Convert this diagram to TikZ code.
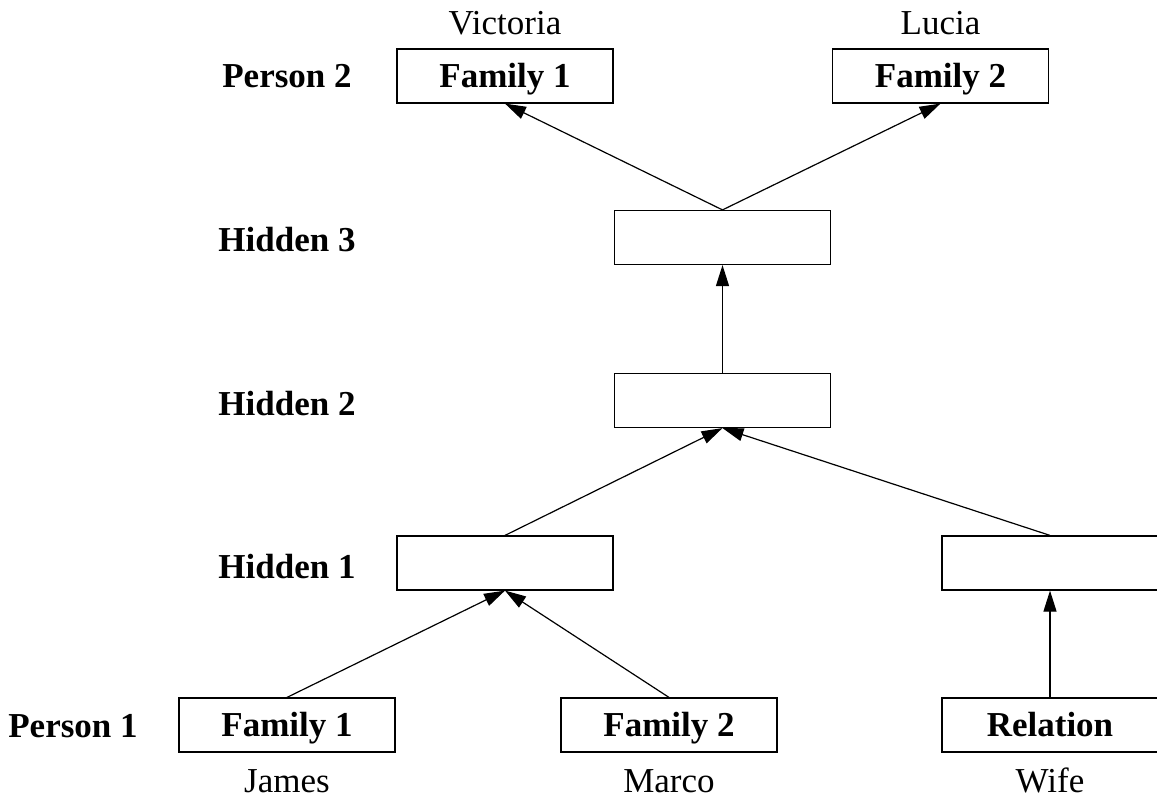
\documentclass[tikz,border=0pt]{standalone}
\usepackage{fontspec}
\setmainfont{Liberation Serif}
\usetikzlibrary{arrows.meta}

\begin{document}
\begin{tikzpicture}[x=0.5pt,y=-0.5pt,
	box/.style={draw,line width=0.6pt,minimum width=108pt,minimum height=27pt,inner sep=0pt,
		text height=11.5pt,text depth=0pt,font=\bfseries},
	lbl/.style={inner sep=0pt,text height=11.5pt,text depth=0pt,font=\bfseries},
	who/.style={inner sep=0pt,text height=11.5pt,text depth=0pt},
	link/.style={line width=0.6pt,-{Triangle[length=10.5pt,width=6.5pt]}}]
	\fontsize{17.5}{21}\selectfont
	\useasboundingbox (0,0) rectangle (1157,803);
	\clip (0,0) rectangle (1157,803);

	% layer labels
	\node[lbl] (lp2) at (287,76) {Person 2};
	\node[lbl] (lh3) at (287,240) {Hidden 3};
	\node[lbl] (lh2) at (287,404) {Hidden 2};
	\node[lbl] (lh1) at (287,567) {Hidden 1};
	\node[lbl] (lp1) at (73,726) {Person 1};

	% boxes
	\node[box] (fa) at (505,76) {Family 1};
	\node[box] (fb) at (940.5,76) {Family 2};
	\node[box] (h3) at (722.5,237.5) {};
	\node[box] (h2) at (722.5,400.5) {};
	\node[box] (h1) at (505,563) {};
	\node[box] (hr) at (1050,563) {};
	\node[box] (pa) at (287,725) {Family 1};
	\node[box] (pb) at (669,725) {Family 2};
	\node[box] (rel) at (1050,725) {Relation};

	% names
	\node[who] (vic) at (505,23) {Victoria};
	\node[who] (luc) at (940.5,23) {Lucia};
	\node[who] (jam) at (287,781) {James};
	\node[who] (mar) at (669,781) {Marco};
	\node[who] (wif) at (1050,781) {Wife};

	% connections
	\draw[link] (pa.north) -- (h1.south);
	\draw[link] (pb.north) -- (h1.south);
	\draw[link] (rel.north) -- (hr.south);
	\draw[link] (h1.north) -- (h2.south);
	\draw[link] (hr.north) -- (h2.south);
	\draw[link] (h2.north) -- (h3.south);
	\draw[link] (h3.north) -- (fa.south);
	\draw[link] (h3.north) -- (fb.south);
\end{tikzpicture}
\end{document}
